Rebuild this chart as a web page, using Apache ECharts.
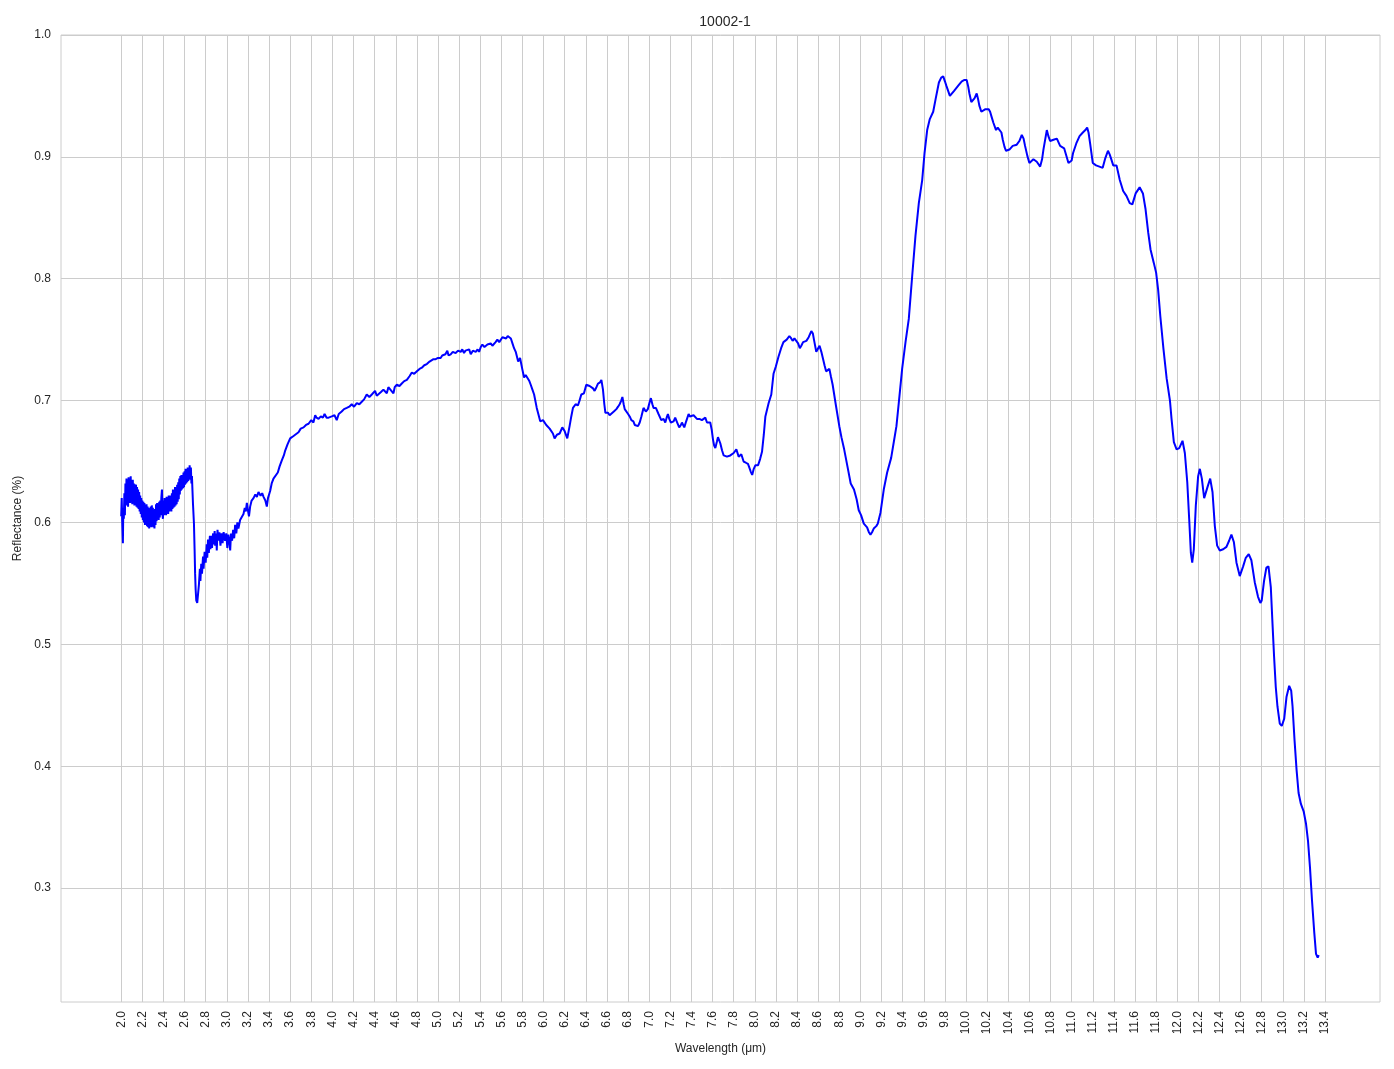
<!DOCTYPE html>
<html>
<head>
<meta charset="utf-8">
<script src="https://cdn.jsdelivr.net/npm/echarts@6/dist/echarts.min.js"></script>
<style>html,body{margin:0;padding:0;background:#fff}#chart{width:1394px;height:1069px}</style>
</head>
<body>
<div id="chart"></div>
<script>
const titleText = "10002-1";
const xName = "Wavelength (μm)";
const yName = "Reflectance (%)";
const xTicks = [2.0,2.2,2.4,2.6,2.8,3.0,3.2,3.4,3.6,3.8,4.0,4.2,4.4,4.6,4.8,5.0,5.2,5.4,5.6,5.8,6.0,6.2,6.4,6.6,6.8,7.0,7.2,7.4,7.6,7.8,8.0,8.2,8.4,8.6,8.8,9.0,9.2,9.4,9.6,9.8,10.0,10.2,10.4,10.6,10.8,11.0,11.2,11.4,11.6,11.8,12.0,12.2,12.4,12.6,12.8,13.0,13.2,13.4];
const yTicks = [0.3,0.4,0.5,0.6,0.7,0.8,0.9,1.0];

const wavelength = [
2.000,2.005,2.010,2.016,2.020,2.025,2.030,2.035,2.040,2.045,2.050,2.055,2.060,2.065,2.070,2.075,2.080,2.085,2.090,2.095,
2.100,2.105,2.110,2.115,2.120,2.125,2.130,2.140,2.145,2.150,2.155,2.160,2.165,2.170,2.175,2.180,2.185,2.190,2.195,
2.200,2.205,2.210,2.215,2.220,2.225,2.230,2.235,2.240,2.245,2.250,2.255,2.260,2.265,2.270,2.275,2.280,2.285,2.290,2.295,
2.300,2.305,2.310,2.315,2.320,2.325,2.330,2.335,2.340,2.345,2.350,2.355,2.360,2.365,2.370,2.375,2.380,2.386,2.390,2.395,
2.400,2.405,2.410,2.415,2.420,2.425,2.430,2.435,2.440,2.445,2.450,2.455,2.460,2.465,2.470,2.475,2.480,2.485,2.490,2.495,
2.500,2.505,2.510,2.515,2.520,2.525,2.530,2.535,2.540,2.545,2.550,2.555,2.560,2.565,2.570,2.575,2.580,2.585,2.590,2.595,
2.600,2.605,2.610,2.615,2.620,2.625,2.630,2.635,2.640,2.645,2.648,2.655,2.660,2.665,2.670,2.675,2.680,2.689,2.695,
2.700,2.705,2.711,2.720,2.727,2.736,
2.745,2.750,2.758,2.765,2.775,2.780,2.790,2.800,2.810,2.815,2.822,2.830,2.840,2.845,2.853,2.860,2.870,2.875,2.885,2.890,
2.900,2.905,2.912,2.920,2.930,2.940,2.950,2.960,2.970,2.984,2.995,3.005,3.015,3.025,3.032,3.040,3.050,3.060,3.070,3.079,
3.090,3.100,3.110,3.126,3.140,3.158,3.170,3.180,3.190,3.200,3.210,3.221,3.235,3.253,3.270,3.285,3.300,3.320,3.335,3.348,
3.365,3.379,3.390,3.411,3.425,3.442,3.460,3.483,3.500,3.521,3.540,3.553,3.575,3.600,3.615,3.632,3.650,3.679,3.700,3.727,
3.750,3.774,3.800,3.820,3.837,3.850,3.869,3.890,3.910,3.926,3.945,3.964,3.994,4.020,4.041,4.060,
4.088,4.110,4.136,4.160,4.183,4.205,4.231,4.255,4.278,4.300,4.325,4.350,4.373,4.404,4.420,4.436,4.460,4.483,4.515,4.530,
4.547,4.578,4.590,4.610,4.635,4.657,4.680,4.705,4.730,4.752,4.775,4.800,4.825,4.847,4.870,4.894,4.920,4.957,
4.978,5.000,5.025,5.040,5.057,5.070,5.088,5.100,5.120,5.140,5.167,5.190,5.215,5.230,5.246,5.260,5.278,5.295,5.310,5.330,
5.357,5.375,5.389,5.405,5.420,5.440,5.468,5.485,5.499,5.515,5.531,5.545,5.562,5.580,5.594,5.610,5.626,5.645,5.660,5.673,
5.690,5.705,5.720,5.736,5.759,5.777,5.800,5.815,5.830,5.847,5.865,5.878,5.894,5.910,5.935,5.946,
5.968,5.994,6.025,6.057,6.075,6.088,6.104,6.126,6.152,6.177,6.199,6.224,6.246,6.262,6.278,6.303,6.325,6.340,6.357,6.382,
6.404,6.420,6.436,6.468,6.483,6.500,6.515,6.535,6.547,6.562,6.575,6.585,6.610,6.625,6.641,6.665,6.689,6.705,6.720,6.735,
6.746,6.758,6.768,6.800,6.815,6.831,6.850,6.863,6.880,6.894,6.910,6.926,6.946,
6.968,6.987,7.005,7.016,7.030,7.041,7.063,7.088,7.114,7.136,7.152,7.165,7.177,7.190,7.205,7.231,7.246,7.265,7.284,7.300,
7.310,7.332,7.350,7.373,7.385,7.398,7.420,7.452,7.475,7.499,7.531,7.547,7.578,7.592,7.604,7.615,7.626,7.640,7.651,7.673,
7.690,7.705,7.736,7.768,7.800,7.825,7.847,7.872,7.894,7.915,7.935,
7.944,7.960,7.975,7.990,8.006,8.031,8.050,8.068,8.085,8.100,8.131,8.156,8.177,8.199,8.224,8.249,8.271,8.302,8.315,8.327,
8.345,8.358,8.375,8.389,8.410,8.426,8.440,8.457,8.488,8.510,8.535,8.550,8.560,8.582,8.600,8.613,8.630,8.644,8.660,8.675,
8.690,8.706,8.720,8.737,8.768,8.800,8.820,8.846,8.877,8.908,8.939,8.964,
8.984,9.006,9.032,9.063,9.080,9.095,9.110,9.126,9.150,9.164,9.190,9.221,9.253,9.291,9.316,9.341,9.363,9.395,9.427,9.458,
9.490,9.521,9.553,9.585,9.607,9.632,9.657,9.689,9.711,9.743,9.765,9.784,9.800,9.815,9.847,9.885,9.932,9.960,
9.981,10.006,10.020,10.032,10.050,10.063,10.080,10.101,10.115,10.126,10.145,10.158,10.180,10.196,10.215,10.228,10.245,10.259,10.284,10.300,
10.316,10.335,10.348,10.365,10.379,10.411,10.442,10.480,10.505,10.528,10.545,10.559,10.580,10.600,10.638,10.670,10.702,10.720,10.733,10.765,
10.780,10.796,10.828,10.860,10.891,10.929,10.970,
10.981,11.000,11.013,11.044,11.075,11.106,11.130,11.147,11.160,11.175,11.200,11.231,11.263,11.294,11.319,11.344,11.360,11.372,11.394,11.425,
11.456,11.488,11.519,11.550,11.575,11.606,11.644,11.675,11.700,11.725,11.747,11.778,11.800,11.819,11.840,11.870,11.900,11.931,
11.946,11.968,11.994,12.019,12.050,12.072,12.095,12.113,12.129,12.142,12.157,12.176,12.198,12.214,12.233,12.255,12.271,12.290,12.312,12.334,
12.356,12.378,12.403,12.435,12.466,12.491,12.513,12.536,12.561,12.592,12.624,12.649,12.677,12.702,12.734,12.765,12.787,
12.800,12.822,12.844,12.864,12.886,12.902,12.917,12.933,12.949,12.971,12.990,13.013,13.035,13.060,13.079,13.092,13.111,13.130,13.149,13.171,
13.197,13.219,13.238,13.257,13.276,13.298,13.314,13.330,13.340
];

const reflectance = [
0.605,0.620,0.600,0.583,0.612,0.603,0.624,0.606,0.632,0.614,0.636,0.616,0.630,0.613,0.637,0.617,0.634,0.616,0.638,0.618,
0.633,0.615,0.635,0.617,0.632,0.614,0.629,0.631,0.613,0.629,0.612,0.627,0.611,0.625,0.609,0.622,0.607,0.620,0.604,
0.618,0.602,0.617,0.600,0.616,0.598,0.614,0.599,0.615,0.597,0.613,0.596,0.612,0.595,0.611,0.597,0.613,0.596,0.614,0.598,
0.612,0.596,0.610,0.595,0.611,0.598,0.615,0.601,0.616,0.603,0.615,0.602,0.617,0.604,0.618,0.606,0.620,0.627,0.608,0.603,
0.618,0.606,0.620,0.607,0.619,0.606,0.621,0.608,0.620,0.607,0.622,0.609,0.622,0.610,0.621,0.609,0.624,0.611,0.627,0.612,
0.626,0.613,0.629,0.614,0.628,0.615,0.631,0.617,0.633,0.619,0.636,0.623,0.638,0.626,0.639,0.627,0.638,0.628,0.641,0.629,
0.642,0.631,0.644,0.632,0.643,0.633,0.645,0.634,0.644,0.636,0.647,0.635,0.645,0.632,0.638,0.626,0.615,0.599,0.578,
0.558,0.545,0.536,0.534,0.535,0.549,
0.562,0.552,0.566,0.558,0.572,0.562,0.576,0.567,0.582,0.571,0.586,0.575,0.589,0.578,0.589,0.579,0.591,0.582,0.593,0.581,
0.591,0.577,0.594,0.585,0.592,0.581,0.591,0.583,0.592,0.585,0.591,0.579,0.590,0.584,0.577,0.591,0.585,0.594,0.587,0.598,
0.591,0.600,0.595,0.602,0.603,0.607,0.612,0.609,0.616,0.610,0.605,0.613,0.618,0.620,0.623,0.621,0.625,0.622,0.624,0.621,
0.618,0.613,0.620,0.626,0.632,0.636,0.637,0.641,0.646,0.651,0.655,0.659,0.664,0.669,0.668,0.671,0.672,0.674,0.677,0.678,
0.680,0.681,0.684,0.682,0.688,0.686,0.685,0.687,0.686,0.689,0.686,0.686,0.687,0.688,0.684,0.689,
0.691,0.693,0.694,0.695,0.697,0.695,0.698,0.697,0.699,0.701,0.705,0.703,0.705,0.708,0.704,0.705,0.707,0.709,0.706,0.711,
0.710,0.706,0.711,0.713,0.712,0.714,0.716,0.717,0.720,0.723,0.722,0.724,0.726,0.727,0.729,0.730,0.732,0.734,
0.734,0.735,0.735,0.737,0.736,0.738,0.741,0.737,0.738,0.740,0.739,0.741,0.740,0.742,0.739,0.741,0.740,0.742,0.738,0.741,
0.740,0.742,0.740,0.744,0.746,0.744,0.746,0.745,0.747,0.745,0.745,0.748,0.750,0.748,0.749,0.752,0.753,0.751,0.753,0.752,
0.751,0.747,0.743,0.740,0.732,0.735,0.725,0.719,0.721,0.720,0.716,0.713,0.709,0.705,0.694,0.695,
0.683,0.684,0.680,0.677,0.676,0.673,0.669,0.672,0.673,0.678,0.675,0.669,0.679,0.687,0.694,0.697,0.696,0.700,0.705,0.706,
0.713,0.713,0.712,0.710,0.708,0.711,0.714,0.715,0.717,0.709,0.697,0.690,0.690,0.688,0.689,0.691,0.693,0.695,0.697,0.700,
0.703,0.697,0.693,0.689,0.687,0.684,0.683,0.680,0.679,0.679,0.682,0.687,0.694,
0.691,0.693,0.699,0.702,0.697,0.694,0.694,0.689,0.684,0.685,0.682,0.686,0.689,0.685,0.682,0.683,0.686,0.682,0.678,0.680,
0.682,0.678,0.683,0.689,0.687,0.686,0.688,0.685,0.685,0.684,0.686,0.682,0.682,0.676,0.668,0.663,0.661,0.666,0.670,0.665,
0.659,0.655,0.654,0.655,0.657,0.660,0.654,0.656,0.650,0.649,0.648,
0.646,0.642,0.639,0.644,0.647,0.647,0.652,0.658,0.672,0.687,0.698,0.705,0.722,0.728,0.736,0.743,0.748,0.750,0.751,0.753,
0.751,0.749,0.751,0.752,0.747,0.743,0.745,0.748,0.749,0.752,0.757,0.755,0.750,0.740,0.743,0.745,0.740,0.735,0.729,0.724,
0.725,0.726,0.720,0.713,0.696,0.679,0.670,0.660,0.646,0.632,0.627,0.619,
0.610,0.606,0.599,0.596,0.592,0.590,0.592,0.595,0.597,0.599,0.608,0.627,0.641,0.653,0.666,0.679,0.698,0.726,0.748,0.767,
0.802,0.835,0.862,0.881,0.903,0.922,0.931,0.937,0.947,0.961,0.965,0.966,0.962,0.958,0.950,0.954,0.959,0.962,
0.963,0.963,0.958,0.952,0.945,0.944,0.948,0.952,0.947,0.942,0.937,0.936,0.939,0.940,0.939,0.937,0.932,0.928,0.922,0.924,
0.925,0.920,0.914,0.908,0.905,0.906,0.909,0.910,0.913,0.918,0.915,0.909,0.901,0.895,0.898,0.896,0.892,0.898,0.906,0.922,
0.917,0.913,0.914,0.915,0.909,0.907,0.895,
0.895,0.897,0.903,0.911,0.917,0.920,0.922,0.924,0.920,0.911,0.895,0.893,0.892,0.891,0.899,0.905,0.902,0.899,0.893,0.893,
0.881,0.872,0.868,0.862,0.861,0.870,0.875,0.870,0.857,0.838,0.824,0.813,0.805,0.791,0.769,0.742,0.718,0.700,
0.685,0.666,0.660,0.661,0.667,0.657,0.633,0.603,0.575,0.567,0.578,0.614,0.638,0.644,0.636,0.620,0.619,0.630,0.636,0.625,
0.597,0.581,0.577,0.578,0.580,0.585,0.590,0.584,0.567,0.556,0.564,0.571,0.574,0.569,0.551,0.539,0.534,
0.536,0.552,0.563,0.564,0.547,0.517,0.490,0.465,0.449,0.435,0.433,0.439,0.457,0.466,0.462,0.449,0.421,0.397,0.378,0.369,
0.363,0.353,0.339,0.317,0.290,0.263,0.246,0.243,0.245
];

const seriesData = wavelength.map((w, i) => [w, reflectance[i]]);
const font = "'Liberation Sans', Arial, sans-serif";
const textColor = '#262626';
const gridColor = '#cccccc';

const chart = echarts.init(document.getElementById('chart'), null, {renderer: 'canvas'});
chart.setOption({
  backgroundColor: '#ffffff',
  animation: false,
  title: {
    text: titleText, left: 720, top: 10, textAlign: 'center',
    textStyle: {fontFamily: font, fontSize: 14, fontWeight: 'normal', color: textColor}
  },
  grid: {left: 61, right: 14, top: 35, bottom: 67, show: true, borderColor: gridColor, borderWidth: 1, containLabel: false},
  xAxis: {
    type: 'value', min: 1.43, max: 13.92,
    name: xName, nameLocation: 'middle', nameGap: 40,
    nameTextStyle: {fontFamily: font, fontSize: 12, color: textColor},
    axisLine: {show: false}, axisTick: {show: false, customValues: xTicks},
    axisLabel: {customValues: xTicks, rotate: 90, margin: 9, fontFamily: font, fontSize: 12, color: textColor,
      formatter: v => Number(v).toFixed(1)},
    splitLine: {show: true, lineStyle: {color: gridColor, width: 1}}
  },
  yAxis: {
    type: 'value', min: 0.2065, max: 1.0,
    name: yName, nameLocation: 'middle', nameGap: 33, nameRotate: 90,
    nameTextStyle: {fontFamily: font, fontSize: 12, color: textColor},
    axisLine: {show: false}, axisTick: {show: false, customValues: yTicks},
    axisLabel: {customValues: yTicks, margin: 10, fontFamily: font, fontSize: 12, color: textColor,
      formatter: v => Number(v).toFixed(1)},
    splitLine: {show: true, lineStyle: {color: gridColor, width: 1}}
  },
  series: [{
    type: 'line', data: seriesData, showSymbol: false, symbol: 'none',
    lineStyle: {color: '#0000ff', width: 2}, itemStyle: {color: '#0000ff'}
  }]
});
</script>
</body>
</html>
